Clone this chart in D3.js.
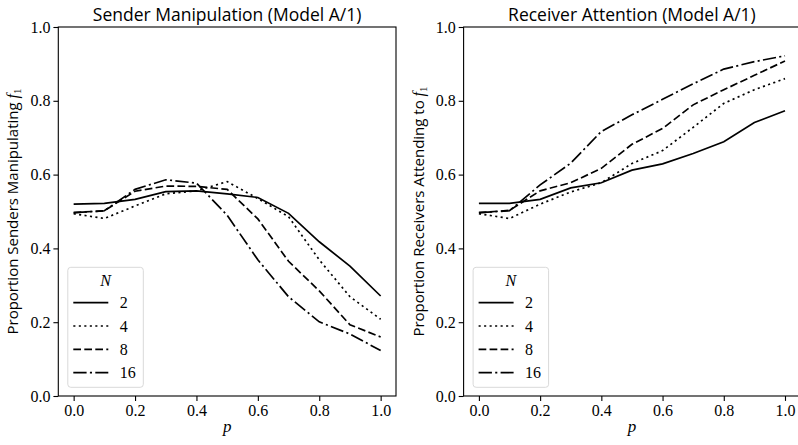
<!DOCTYPE html>
<html>
<head>
<meta charset="utf-8">
<script src="https://cdn.jsdelivr.net/npm/d3@7"></script>
<style>
  html, body { margin: 0; padding: 0; background: #fff; }
  svg { display: block; }
  .serif { font-family: "Liberation Serif"; }
  .sans { font-family: "Open Sans"; }
</style>
</head>
<body>
<div id="visualization"></div>
<script>
// data
const pValues = [0, 0.1, 0.2, 0.3, 0.4, 0.5, 0.6, 0.7, 0.8, 0.9, 1.0];
const nLabels = ["2", "4", "8", "16"];
const xTicks = [0, 0.2, 0.4, 0.6, 0.8, 1.0];
const yTicks = [0, 0.2, 0.4, 0.6, 0.8, 1.0];

const senderN2 = [0.520, 0.522, 0.533, 0.554, 0.556, 0.548, 0.538, 0.495, 0.418, 0.352, 0.271];
const senderN4 = [0.494, 0.481, 0.515, 0.548, 0.556, 0.581, 0.535, 0.486, 0.369, 0.269, 0.208];
const senderN8 = [0.497, 0.502, 0.555, 0.569, 0.568, 0.560, 0.480, 0.365, 0.285, 0.193, 0.160];
const senderN16 = [0.497, 0.502, 0.560, 0.586, 0.577, 0.490, 0.369, 0.269, 0.201, 0.168, 0.123];

const receiverN2 = [0.522, 0.522, 0.533, 0.564, 0.578, 0.612, 0.629, 0.657, 0.689, 0.741, 0.773];
const receiverN4 = [0.494, 0.481, 0.520, 0.553, 0.578, 0.630, 0.665, 0.728, 0.793, 0.830, 0.860];
const receiverN8 = [0.497, 0.503, 0.556, 0.578, 0.617, 0.682, 0.725, 0.789, 0.830, 0.869, 0.908];
const receiverN16 = [0.497, 0.502, 0.572, 0.631, 0.717, 0.762, 0.804, 0.846, 0.886, 0.906, 0.922];

const dashStyles = [null, "2.1,3.4", "7.7,3.3", "13.3,3.3,2.1,3.3"];

let svg, viewBox, panels;

setUpVariables();
panels.forEach(drawPanel);

function setUpVariables() {
  viewBox = { width: 798, height: 445, top: 27, bottom: 396 };

  panels = [
    {
      left: 58.3,
      right: 396,
      title: "Sender Manipulation (Model A/1)",
      yLabel: "Proportion Senders Manipulating ",
      series: [senderN2, senderN4, senderN8, senderN16],
    },
    {
      left: 463.6,
      right: 800.3,
      title: "Receiver Attention (Model A/1)",
      yLabel: "Proportion Receivers Attending to ",
      series: [receiverN2, receiverN4, receiverN8, receiverN16],
    },
  ];

  svg = d3
    .select("#visualization")
    .append("svg")
    .attr("width", viewBox.width)
    .attr("height", viewBox.height)
    .attr("viewBox", "0 0 " + viewBox.width + " " + viewBox.height);
}

function drawPanel(panel) {
  const xScale = d3
    .scaleLinear()
    .domain([-0.05, 1.05])
    .range([panel.left, panel.right]);
  const yScale = d3
    .scaleLinear()
    .domain([0, 1])
    .range([viewBox.bottom, viewBox.top]);

  const g = svg.append("g");

  // lines
  const line = d3
    .line()
    .x((d, i) => xScale(pValues[i]))
    .y((d) => yScale(d));

  g.append("g")
    .selectAll("path")
    .data(panel.series)
    .enter()
    .append("path")
    .attr("d", line)
    .attr("fill", "none")
    .attr("stroke", "#000")
    .attr("stroke-width", 1.7)
    .attr("stroke-dasharray", (d, i) => dashStyles[i]);

  // axes
  const xAxis = g
    .append("g")
    .attr("transform", "translate(0," + viewBox.bottom + ")")
    .call(d3.axisBottom(xScale).tickValues(xTicks).tickFormat(d3.format(".1f")).tickSizeOuter(0).tickSize(4.9).tickPadding(4));
  const yAxis = g
    .append("g")
    .attr("transform", "translate(" + panel.left + ",0)")
    .call(d3.axisLeft(yScale).tickValues(yTicks).tickFormat(d3.format(".1f")).tickSizeOuter(0).tickSize(4.9).tickPadding(3));

  [xAxis, yAxis].forEach((ax) => {
    ax.select(".domain").remove();
    ax.attr("font-family", null).attr("font-size", null);
    ax.selectAll(".tick line").attr("stroke", "#000").attr("stroke-width", 1.1);
    ax.selectAll(".tick text")
      .attr("class", "serif")
      .style("font-size", "16px")
      .attr("fill", "#000");
  });

  // frame
  g.append("rect")
    .attr("x", panel.left)
    .attr("y", viewBox.top)
    .attr("width", panel.right - panel.left)
    .attr("height", viewBox.bottom - viewBox.top)
    .attr("fill", "none")
    .attr("stroke", "#000")
    .attr("stroke-width", 1.1);

  // title
  g.append("text")
    .attr("class", "sans")
    .text(panel.title)
    .attr("x", (panel.left + panel.right) / 2)
    .attr("y", 21)
    .attr("text-anchor", "middle")
    .style("font-size", "17.5px")
    .attr("fill", "#000");

  // x label
  g.append("text")
    .attr("class", "serif")
    .text("p")
    .attr("x", (panel.left + panel.right) / 2)
    .attr("y", 432)
    .attr("text-anchor", "middle")
    .style("font-style", "italic")
    .style("font-size", "17px")
    .attr("fill", "#000");

  // y label
  const yLab = g
    .append("text")
    .attr("class", "sans")
    .attr("transform", "translate(" + (panel.left - 40) + "," + (viewBox.top + viewBox.bottom) / 2 + ") rotate(-90)")
    .attr("text-anchor", "middle")
    .style("font-size", "15px")
    .attr("fill", "#000");
  yLab.append("tspan").text(panel.yLabel);
  yLab.append("tspan").attr("class", "serif").text("f").style("font-style", "italic").style("font-size", "16px");
  yLab.append("tspan").attr("class", "serif").text("1").style("font-size", "11px").attr("dy", 3);

  // legend
  const legend = g
    .append("g")
    .attr("transform", "translate(" + (panel.left + 9.5) + ",267.3)");

  legend
    .append("rect")
    .attr("width", 75.5)
    .attr("height", 120)
    .attr("rx", 3)
    .attr("fill", "#fff")
    .attr("fill-opacity", 0.8)
    .attr("stroke", "#d9d9d9")
    .attr("stroke-width", 1);

  legend
    .append("text")
    .attr("class", "serif")
    .text("N")
    .attr("x", 37.8)
    .attr("y", 19)
    .attr("text-anchor", "middle")
    .style("font-style", "italic")
    .style("font-size", "16px")
    .attr("fill", "#000");

  const items = legend
    .selectAll("g.item")
    .data(nLabels)
    .enter()
    .append("g")
    .attr("class", "item")
    .attr("transform", (d, i) => "translate(0," + (35.4 + i * 23.3) + ")");

  items
    .append("line")
    .attr("x1", 5.5)
    .attr("x2", 40.5)
    .attr("stroke", "#000")
    .attr("stroke-width", 1.7)
    .attr("stroke-dasharray", (d, i) => dashStyles[i]);

  items
    .append("text")
    .attr("class", "serif")
    .text((d) => d)
    .attr("x", 52)
    .attr("y", 5.5)
    .style("font-size", "16px")
    .attr("fill", "#000");
}
</script>
</body>
</html>
